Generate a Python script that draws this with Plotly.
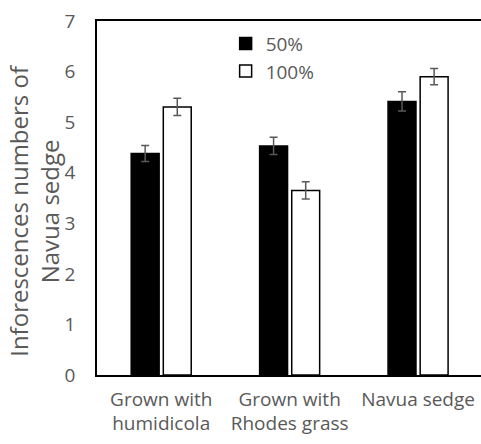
import plotly.graph_objects as go

categories = ["Grown with<br>humidicola", "Grown with<br>Rhodes grass", "Navua sedge"]
vals_50 = [4.38, 4.53, 5.41]
err_50 = [0.16, 0.17, 0.19]
vals_100 = [5.30, 3.65, 5.90]
err_100 = [0.17, 0.17, 0.16]
y_ticks = [0, 1, 2, 3, 4, 5, 6, 7]

FONT = "Open Sans"
GRAY = "#595959"

fig = go.Figure()
fig.add_trace(go.Bar(
    x=categories, y=vals_50, name="50%",
    marker=dict(color="black", line=dict(color="black", width=1.5)),
    error_y=dict(type="data", array=err_50, color=GRAY, thickness=1.5, width=4),
))
fig.add_trace(go.Bar(
    x=categories, y=vals_100, name="100%",
    marker=dict(color="white", line=dict(color="black", width=1.5)),
    error_y=dict(type="data", array=err_100, color=GRAY, thickness=1.5, width=4),
))

fig.update_layout(
    width=481, height=444,
    margin=dict(l=97, r=0, t=21, b=69, autoexpand=False),
    plot_bgcolor="white", paper_bgcolor="white",
    barmode="group", bargap=0.5, bargroupgap=0.13,
    font=dict(family=FONT, size=19, color=GRAY),
    showlegend=True,
    legend=dict(x=0.335, y=0.99, xanchor="left", yanchor="top",
                bgcolor="rgba(0,0,0,0)", font=dict(size=19, color=GRAY),
                itemwidth=30, tracegroupgap=0),
    xaxis=dict(showline=True, linecolor="black", linewidth=1.5, mirror=True,
               ticks="", showgrid=False, range=[-0.5, 2.49], automargin=False,
               ticklabelstandoff=6, tickfont=dict(size=19, color=GRAY)),
    yaxis=dict(showline=True, linecolor="black", linewidth=1.5, automargin=False,
               range=[0, 7], tickvals=y_ticks, ticks="", showgrid=False,
               zeroline=False, ticklabelstandoff=16,
               tickfont=dict(size=19, color=GRAY)),
)

fig.add_annotation(
    text="Inforescences numbers of<br>Navua sedge",
    xref="paper", yref="paper", x=-0.163, y=0.465,
    xanchor="center", yanchor="middle", textangle=-90, showarrow=False,
    font=dict(size=24, color=GRAY, family=FONT),
)

fig.write_html(
    "out.html",
    config={"displayModeBar": False},
    post_script="document.body.style.margin='0';document.body.style.overflow='hidden';",
)
